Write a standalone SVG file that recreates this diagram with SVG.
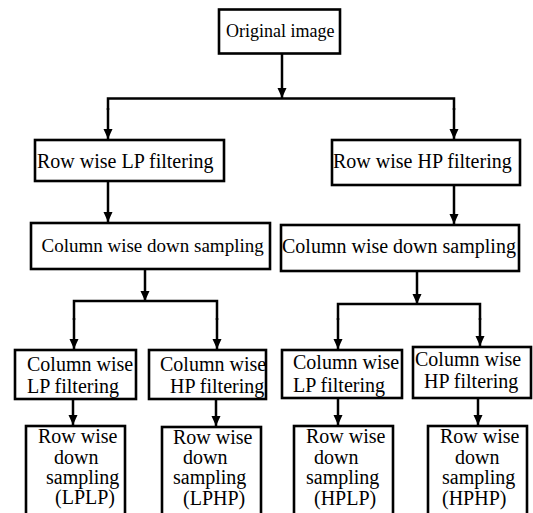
<svg xmlns="http://www.w3.org/2000/svg" width="533" height="513" viewBox="0 0 533 513">
<style>
.box{fill:#fff;stroke:#000;stroke-width:2.6}
.t{font-family:'Liberation Serif','Times New Roman',serif;font-size:20px;fill:#000}
.c{fill:none;stroke:#000;stroke-width:2.5}
</style>
<defs>
<marker id="ah" markerUnits="userSpaceOnUse" markerWidth="10" markerHeight="10" refX="10" refY="5" orient="auto" viewBox="0 0 10 10">
<path d="M0,0.5 L10,5 L0,9.5 z" fill="#000"/>
</marker>
</defs>
<rect width="533" height="513" fill="#fff"/>
<g id="connectors">
<line class="c" x1="282" y1="54" x2="282" y2="98" marker-end="url(#ah)"/>
<polyline class="c" points="108,110 108,98.5 454,98.5 454,110"/>
<line class="c" x1="108" y1="108" x2="108" y2="139" marker-end="url(#ah)"/>
<line class="c" x1="454" y1="108" x2="454" y2="139" marker-end="url(#ah)"/>
<line class="c" x1="108" y1="182" x2="108" y2="222" marker-end="url(#ah)"/>
<line class="c" x1="454" y1="186" x2="454" y2="224" marker-end="url(#ah)"/>
<line class="c" x1="145" y1="270" x2="145" y2="301" marker-end="url(#ah)"/>
<polyline class="c" points="74,320 74,301 217,301 217,320"/>
<line class="c" x1="74" y1="318" x2="74" y2="349" marker-end="url(#ah)"/>
<line class="c" x1="217" y1="318" x2="217" y2="349" marker-end="url(#ah)"/>
<line class="c" x1="417" y1="272" x2="417" y2="304" marker-end="url(#ah)"/>
<polyline class="c" points="338,320 338,304 480,304 480,320"/>
<line class="c" x1="338" y1="318" x2="338" y2="349" marker-end="url(#ah)"/>
<line class="c" x1="480" y1="318" x2="480" y2="346" marker-end="url(#ah)"/>
<line class="c" x1="73" y1="400" x2="73" y2="425" marker-end="url(#ah)"/>
<line class="c" x1="216" y1="400" x2="216" y2="426" marker-end="url(#ah)"/>
<line class="c" x1="338" y1="399" x2="338" y2="425" marker-end="url(#ah)"/>
<line class="c" x1="478" y1="399" x2="478" y2="425" marker-end="url(#ah)"/>
</g>
<g id="original">
<rect class="box" x="219" y="9.5" width="121" height="44"/>
<text class="t" x="226" y="37" style="font-size:18px">Original image</text>
</g>
<g id="row-lp">
<rect class="box" x="35" y="140" width="189" height="41"/>
<text class="t" x="37" y="168">Row wise LP filtering</text>
</g>
<g id="row-hp">
<rect class="box" x="332" y="140" width="188" height="45"/>
<text class="t" x="333" y="168">Row wise HP filtering</text>
</g>
<g id="col-ds-lp">
<rect class="box" x="31" y="223" width="239" height="46"/>
<text class="t" x="41.5" y="252" style="font-size:19px">Column wise down sampling</text>
</g>
<g id="col-ds-hp">
<rect class="box" x="281" y="225" width="238" height="46"/>
<text class="t" x="282" y="253">Column wise down sampling</text>
</g>
<g id="col-lp-1">
<rect class="box" x="15" y="350" width="121" height="49"/>
<text class="t" x="27" y="371">Column wise</text>
<text class="t" x="27" y="393">LP filtering</text>
</g>
<g id="col-hp-1">
<rect class="box" x="149" y="350" width="117" height="49"/>
<text class="t" x="160" y="371">Column wise</text>
<text class="t" x="170" y="393">HP filtering</text>
</g>
<g id="col-lp-2">
<rect class="box" x="282" y="350" width="120" height="48"/>
<text class="t" x="293" y="369">Column wise</text>
<text class="t" x="293" y="392">LP filtering</text>
</g>
<g id="col-hp-2">
<rect class="box" x="413" y="347" width="118" height="51"/>
<text class="t" x="415" y="366">Column wise</text>
<text class="t" x="424" y="388">HP filtering</text>
</g>
<g id="lplp">
<rect class="box" x="26" y="426" width="99" height="100"/>
<text class="t" x="38" y="443">Row wise</text>
<text class="t" x="54" y="464">down</text>
<text class="t" x="46" y="484">sampling</text>
<text class="t" x="55" y="504">(LPLP)</text>
</g>
<g id="lphp">
<rect class="box" x="162" y="427" width="99" height="100"/>
<text class="t" x="173" y="444">Row wise</text>
<text class="t" x="183" y="464">down</text>
<text class="t" x="173" y="484">sampling</text>
<text class="t" x="183" y="505">(LPHP)</text>
</g>
<g id="hplp">
<rect class="box" x="294" y="426" width="99" height="100"/>
<text class="t" x="306" y="443">Row wise</text>
<text class="t" x="314" y="464">down</text>
<text class="t" x="306" y="484">sampling</text>
<text class="t" x="314" y="505">(HPLP)</text>
</g>
<g id="hphp">
<rect class="box" x="428" y="426" width="99" height="100"/>
<text class="t" x="440" y="443">Row wise</text>
<text class="t" x="455" y="464">down</text>
<text class="t" x="442" y="484">sampling</text>
<text class="t" x="442" y="505">(HPHP)</text>
</g>
</svg>
